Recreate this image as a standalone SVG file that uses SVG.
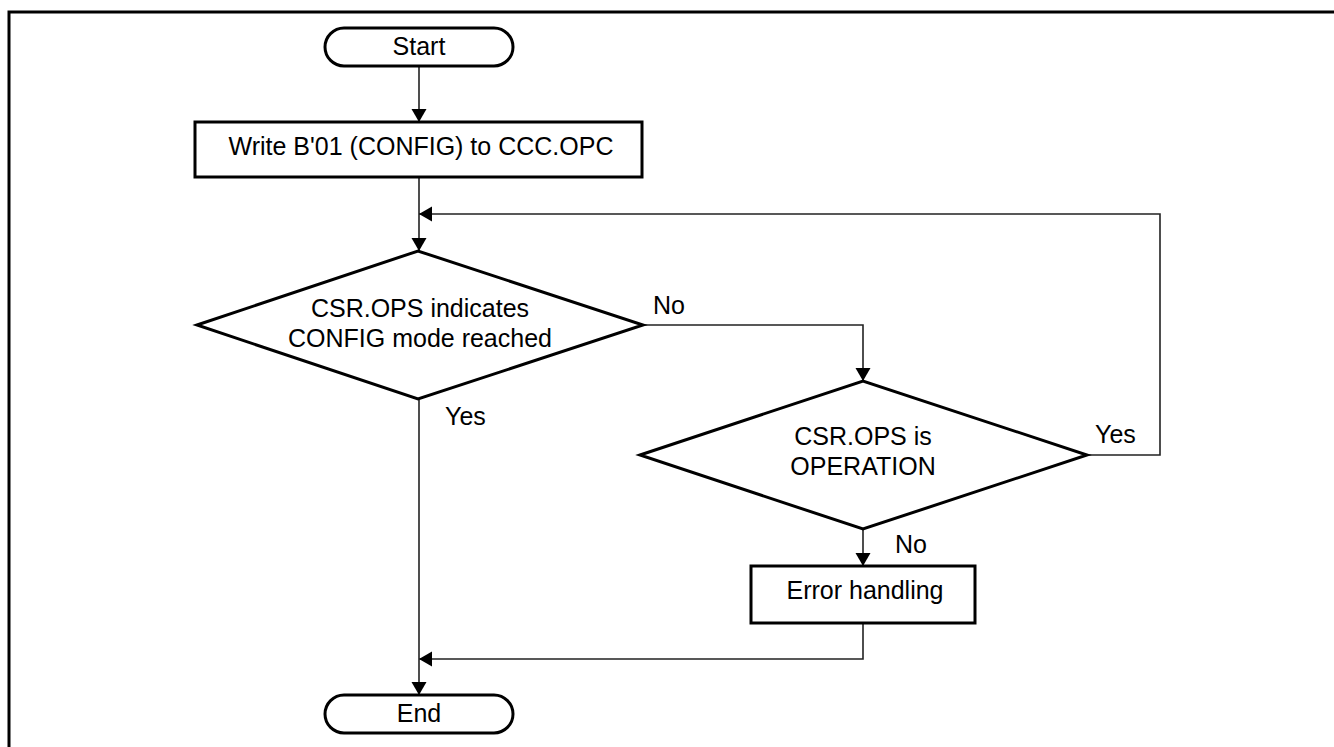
<svg xmlns="http://www.w3.org/2000/svg" width="1334" height="747" viewBox="0 0 1334 747">
<defs>
<style>
.shape{fill:#fff;stroke:#000;stroke-width:3}
.conn{fill:none;stroke:#222;stroke-width:1.6}
.frame{fill:none;stroke:#000;stroke-width:3}
text{font-family:"Liberation Sans",Arial,sans-serif;font-size:25px;fill:#000}
.c{text-anchor:middle}
</style>
<marker id="arr" markerUnits="userSpaceOnUse" markerWidth="14" markerHeight="16" refX="13" refY="7.5" orient="auto">
<path d="M0,0 L13,7.5 L0,15 z" fill="#000"/>
</marker>
</defs>
<rect width="1334" height="747" fill="#fff"/>
<path class="frame" d="M9,747 L9,12 L1334,12"/>
<g id="connectors">
<path class="conn" d="M419,66 L419,122" marker-end="url(#arr)"/>
<path class="conn" d="M419,177 L419,251" marker-end="url(#arr)"/>
<path class="conn" d="M643,325 L863,325 L863,381" marker-end="url(#arr)"/>
<path class="conn" d="M1087,455 L1160,455 L1160,214 L419,214" marker-end="url(#arr)"/>
<path class="conn" d="M863,529 L863,566" marker-end="url(#arr)"/>
<path class="conn" d="M863,623 L863,659 L419,659" marker-end="url(#arr)"/>
<path class="conn" d="M419,399 L419,695" marker-end="url(#arr)"/>
<text x="653" y="314">No</text>
<text x="445" y="425">Yes</text>
<text x="1095" y="443">Yes</text>
<text x="895" y="553">No</text>
</g>
<g id="start">
<rect class="shape" x="325" y="28" width="188" height="38" rx="19" ry="19"/>
<text class="c" x="419" y="55">Start</text>
</g>
<g id="write">
<rect class="shape" x="195" y="122" width="447" height="55"/>
<text class="c" x="421" y="155">Write B'01 (CONFIG) to CCC.OPC</text>
</g>
<g id="check-config">
<polygon class="shape" points="197,325 418,251 643,325 418,399"/>
<text class="c" x="420" y="317">CSR.OPS indicates</text>
<text class="c" x="420" y="347">CONFIG mode reached</text>
</g>
<g id="check-operation">
<polygon class="shape" points="640,455 863,381 1087,455 863,529"/>
<text class="c" x="863" y="445">CSR.OPS is</text>
<text class="c" x="863" y="475">OPERATION</text>
</g>
<g id="error">
<rect class="shape" x="751" y="566" width="224" height="57"/>
<text class="c" x="865" y="599">Error handling</text>
</g>
<g id="end">
<rect class="shape" x="325" y="695" width="188" height="38" rx="19" ry="19"/>
<text class="c" x="419" y="722">End</text>
</g>
</svg>
